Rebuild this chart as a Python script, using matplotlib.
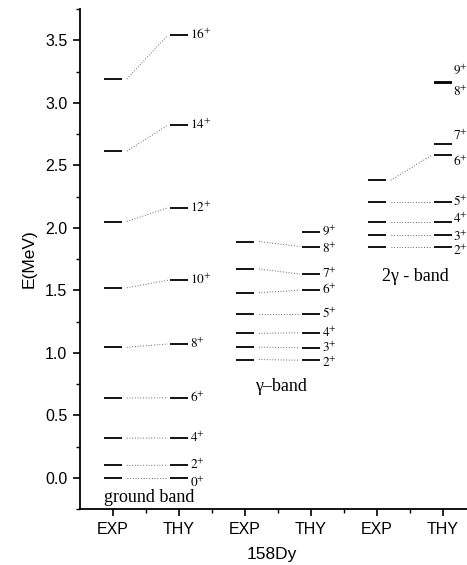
import matplotlib
matplotlib.use("Agg")
import matplotlib.pyplot as plt
from matplotlib.ticker import MultipleLocator

# level energies (MeV), 158Dy
ground_spins = [0, 2, 4, 6, 8, 10, 12, 14, 16]
ground_exp = [0.0, 0.099, 0.317, 0.638, 1.044, 1.520, 2.050, 2.613, 3.19]
ground_thy = [0.0, 0.100, 0.318, 0.640, 1.070, 1.580, 2.160, 2.820, 3.54]

gamma_spins = [2, 3, 4, 5, 6, 7, 8, 9]
gamma_exp = [0.946, 1.045, 1.155, 1.310, 1.480, 1.670, 1.890]
gamma_thy = [0.940, 1.040, 1.160, 1.310, 1.500, 1.630, 1.850, 1.970]

g2_spins = [2, 3, 4, 5, 6, 7, 8, 9]
g2_exp = [1.845, 1.940, 2.050, 2.210, 2.380]
g2_thy = [1.845, 1.940, 2.050, 2.210, 2.580, 2.670, 3.160, 3.170]

tick_labels = ["EXP", "THY", "EXP", "THY", "EXP", "THY"]

# small vertical nudges of the spin labels (MeV)
ground_nudge = [-0.04, 0, 0, 0, 0, 0, 0, 0, 0]
gamma_nudge = [-0.02, 0, 0, 0, 0, 0, -0.02, 0]
g2_nudge = [-0.03, -0.01, 0.02, 0, -0.05, 0.065, -0.07, 0.09]

plt.rcParams["mathtext.fontset"] = "stix"

fig = plt.figure(figsize=(4.67, 5.65), dpi=100)
ax = fig.add_axes([80 / 467, 56 / 565, 396 / 467, 500 / 565])

hw = 0.13
bands = [
    (1, ground_spins, ground_exp, ground_thy, ground_nudge, 0.17),
    (3, gamma_spins, gamma_exp, gamma_thy, gamma_nudge, 0.17),
    (5, g2_spins, g2_exp, g2_thy, g2_nudge, 0.15),
]
for x0, spins, exp, thy, nudge, lx in bands:
    x1 = x0 + 1
    for e in exp:
        ax.plot([x0 - hw, x0 + hw], [e, e], color="black", lw=1.3, solid_capstyle="butt")
    for e in thy:
        ax.plot([x1 - hw, x1 + hw], [e, e], color="black", lw=1.3, solid_capstyle="butt")
    for a, b in zip(exp, thy):
        ax.plot([x0 + 0.21, x1 - 0.17], [a, b], color="#444444", lw=0.7,
                linestyle=(0, (0.8, 2.0)))
    for j, e, d in zip(spins, thy, nudge):
        ax.text(x1 + lx, e + d, r"$%d^{+}$" % j, fontsize=9.5,
                ha="left", va="center")

serif = "Liberation Serif"
ax.text(1.55, -0.16, "ground band", family=serif, fontsize=13, ha="center", va="center")
ax.text(3.55, 0.73, "\u03b3\u2013band", family=serif, fontsize=13, ha="center", va="center")
ax.text(5.58, 1.61, "2\u03b3 - band", family=serif, fontsize=13, ha="center", va="center")

ax.set_xlim(0.5, 6.5)
ax.set_ylim(-0.25, 3.75)
ax.set_xticks([1, 2, 3, 4, 5, 6])
ax.set_xticklabels(tick_labels)
ax.xaxis.set_minor_locator(plt.FixedLocator([1.5, 2.5, 3.5, 4.5, 5.5, 6.5]))
ax.yaxis.set_minor_locator(MultipleLocator(0.25))
ax.set_yticks([0, 0.5, 1.0, 1.5, 2.0, 2.5, 3.0, 3.5])
ax.set_yticklabels(["0.0", "0.5", "1.0", "1.5", "2.0", "2.5", "3.0", "3.5"])

for s in ["top", "right"]:
    ax.spines[s].set_visible(False)
for s in ["left", "bottom"]:
    ax.spines[s].set_linewidth(1.3)

sans = "Liberation Sans"
ax.tick_params(which="major", direction="out", length=5, width=1.2, pad=4,
               labelsize=11.5)
ax.tick_params(which="minor", direction="out", length=2.7, width=1.0)
for lab in ax.get_xticklabels() + ax.get_yticklabels():
    lab.set_family(sans)

ax.set_ylabel("E(MeV)", family=sans, fontsize=12.5, labelpad=6)
ax.set_xlabel("158Dy", family=sans, fontsize=12.5, labelpad=5)
ax.xaxis.set_label_coords((272 - 80) / 396, -0.075)

fig.savefig("out.png", dpi=100)
